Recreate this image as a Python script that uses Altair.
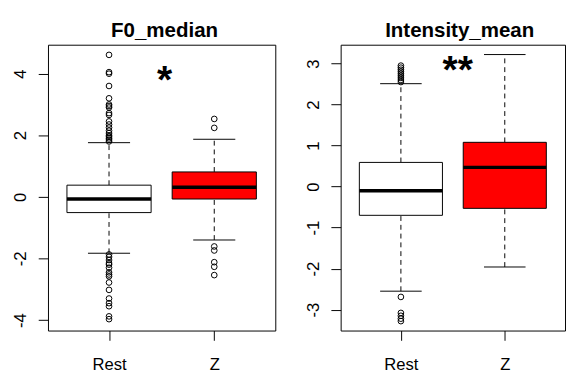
import altair as alt
import pandas as pd

groups = ["Rest", "Z"]
fills = ["white", "red"]

titles = ["F0_median", "Intensity_mean"]
stars = ["*", "**"]
star_y = [3.9, 2.93]

# F0_median panel
f0_q1 = [-0.51, -0.07]
f0_med = [-0.07, 0.31]
f0_q3 = [0.38, 0.81]
f0_lo = [-1.83, -1.40]
f0_hi = [1.76, 1.87]
f0_out_rest = [4.61, 4.05, 4.0, 3.6, 3.2, 3.0, 2.95, 2.9, 2.72, 2.66, 2.45, 2.35,
               2.25, 2.15, 2.07, 2.0, 1.95, 1.9, 1.85, 1.8,
               -1.87, -1.95, -2.05, -2.15, -2.2, -2.3, -2.45, -2.52, -2.58,
               -2.78, -3.02, -3.3, -3.45, -3.55, -3.88, -3.97]
f0_out_z = [2.53, 2.24, -1.61, -1.74, -2.12, -2.27, -2.54]
f0_domain = [-4.34, 4.94]
f0_ticks = [-4, -2, 0, 2, 4]

# Intensity_mean panel
in_q1 = [-0.70, -0.53]
in_med = [-0.10, 0.47]
in_q3 = [0.59, 1.08]
in_lo = [-2.55, -1.96]
in_hi = [2.51, 3.22]
in_out_rest = [2.95, 2.9, 2.85, 2.8, 2.75, 2.7, 2.65, 2.6, 2.55,
               -2.69, -3.08, -3.15, -3.22, -3.28]
in_out_z = []
in_domain = [-3.51, 3.46]
in_ticks = [-3, -2, -1, 0, 1, 2, 3]

FONT = "Liberation Sans"
label_expr = "[" + ",".join("'%s'" % g for g in groups) + "][datum.value - 1]"


def panel(title, q1, med, q3, lo, hi, out_rest, out_z, star, sy, domain, ticks, width,
          sdx, tdx):
    pos = list(range(1, len(groups) + 1))
    box = pd.DataFrame({"group": groups, "pos": pos, "q1": q1, "med": med,
                        "q3": q3, "lo": lo, "hi": hi})
    out = pd.DataFrame({
        "group": ["Rest"] * len(out_rest) + ["Z"] * len(out_z),
        "value": list(out_rest) + list(out_z),
    })
    out["pos"] = out["group"].map({g: i + 1 for i, g in enumerate(groups)})
    star_df = pd.DataFrame({"pos": [(1 + len(groups)) / 2], "value": [sy], "label": [star]})

    xscale = alt.Scale(domain=[0.42, len(groups) + 0.58], nice=False, zero=False)
    yscale = alt.Scale(domain=domain, nice=False, zero=False)
    xaxis = alt.Axis(values=pos, labelExpr=label_expr, title=None, grid=False,
                     domain=False, tickSize=10, tickColor="black", labelColor="black",
                     labelFontSize=17, labelFont=FONT, labelPadding=17)
    yaxis = alt.Axis(values=ticks, labelExpr="datum.value + ''", title=None, grid=False,
                     domain=False, tickSize=10,
                     tickColor="black", labelColor="black", labelFontSize=17,
                     labelFont=FONT, labelAngle=270, labelAlign="center",
                     labelBaseline="bottom", labelPadding=9)

    def X(f):
        return alt.X(f, scale=xscale, axis=xaxis, title=None)

    def Y(f):
        return alt.Y(f, scale=yscale, axis=yaxis, title=None)

    base = alt.Chart(box).transform_calculate(
        xl="datum.pos - 0.4", xr="datum.pos + 0.4",
        cl="datum.pos - 0.2", cr="datum.pos + 0.2")

    upper_w = base.mark_rule(color="black", strokeDash=[5, 4], strokeWidth=1).encode(
        x=X("pos:Q"), y=Y("q3:Q"), y2="hi:Q")
    lower_w = base.mark_rule(color="black", strokeDash=[5, 4], strokeWidth=1).encode(
        x=X("pos:Q"), y=Y("lo:Q"), y2="q1:Q")
    cap_hi = base.mark_rule(color="black", strokeWidth=1).encode(
        x=X("cl:Q"), x2="cr:Q", y=Y("hi:Q"))
    cap_lo = base.mark_rule(color="black", strokeWidth=1).encode(
        x=X("cl:Q"), x2="cr:Q", y=Y("lo:Q"))
    rect = base.mark_rect(stroke="black", strokeWidth=1).encode(
        x=X("xl:Q"), x2="xr:Q", y=Y("q1:Q"), y2="q3:Q",
        fill=alt.Fill("group:N", scale=alt.Scale(domain=groups, range=fills), legend=None))
    median = base.mark_rule(color="black", strokeWidth=3.5).encode(
        x=X("xl:Q"), x2="xr:Q", y=Y("med:Q"))
    pts = alt.Chart(out).mark_point(shape="circle", filled=False, color="black",
                                    size=34, strokeWidth=1, opacity=1).encode(
        x=X("pos:Q"), y=Y("value:Q"))
    txt = alt.Chart(star_df).mark_text(font=FONT, fontSize=40, fontWeight="bold",
                                       color="black", baseline="alphabetic", dy=17,
                                       dx=sdx).encode(
        x=X("pos:Q"), y=Y("value:Q"), text="label:N")

    return alt.layer(upper_w, lower_w, cap_hi, cap_lo, rect, median, pts, txt).properties(
        width=width, height=293,
        title=alt.TitleParams(title, font=FONT, fontSize=21, fontWeight="bold",
                              color="black", anchor="middle", frame="group", offset=4,
                              dx=tdx))


left = panel(titles[0], f0_q1, f0_med, f0_q3, f0_lo, f0_hi, f0_out_rest, f0_out_z,
             stars[0], star_y[0], f0_domain, f0_ticks, 233, 3, 3)
right = panel(titles[1], in_q1, in_med, in_q3, in_lo, in_hi, in_out_rest, in_out_z,
              stars[1], star_y[1], in_domain, in_ticks, 230, 5, 7)

chart = alt.hconcat(left, right, spacing=28).properties(
    padding={"left": 3, "top": 7, "right": 0, "bottom": 0},
    background="white",
).configure_view(stroke="black", strokeWidth=1)

chart.save("out.html", embed_options={"renderer": "svg", "actions": False})
